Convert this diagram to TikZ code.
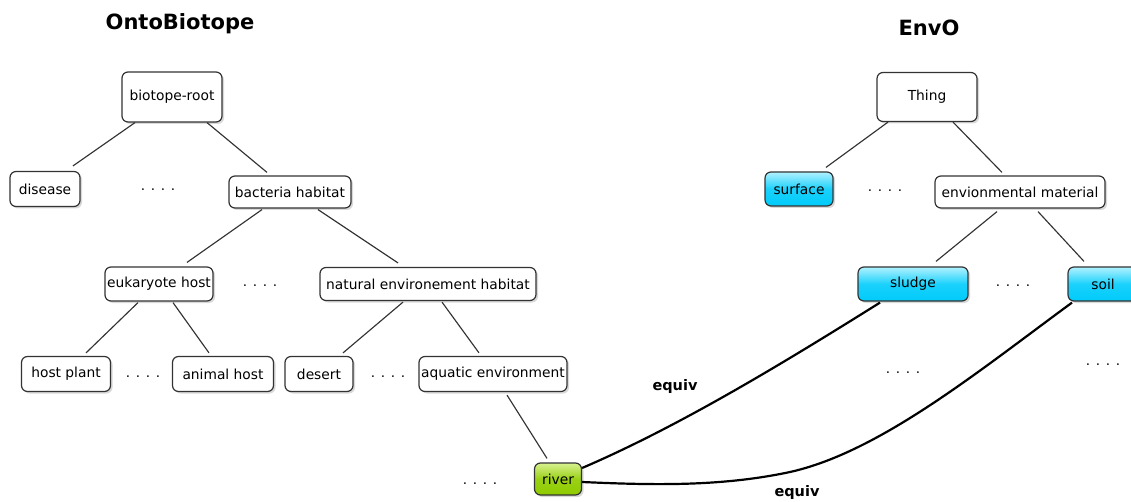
\documentclass[tikz,border=0pt]{standalone}
\usepackage{fontspec}
\setmainfont{DejaVu Sans}
\usetikzlibrary{shadows}

\definecolor{linegray}{HTML}{333333}
\definecolor{cyantop}{HTML}{B0F2FF}
\definecolor{cyanbot}{HTML}{00CBFB}
\definecolor{greentop}{HTML}{D8F290}
\definecolor{greenbot}{HTML}{8FCB00}

\tikzset{
  box/.style={draw=linegray, line width=1.2pt, rounded corners=6pt, fill=white,
    drop shadow={shadow xshift=2pt, shadow yshift=-2pt, opacity=0.3},
    inner sep=0pt, minimum height=33pt, font=\fontsize{13.8}{16}\selectfont},
  envbox/.style={box, top color=cyantop, bottom color=cyanbot, middle color=cyanbot!85!cyantop},
  hitbox/.style={box, top color=greentop, bottom color=greenbot, middle color=greenbot!85!greentop},
  link/.style={draw=linegray, line width=1.15pt},
  equivline/.style={draw=black, line width=2.2pt},
  dots/.style={anchor=base, inner sep=0pt, font=\fontsize{13.5}{16}\selectfont},
  title/.style={font=\bfseries\fontsize{21}{25}\selectfont},
  equivlbl/.style={font=\bfseries\fontsize{14.5}{17}\selectfont}
}

\begin{document}
\begin{tikzpicture}[x=1pt, y=-1pt]
\useasboundingbox (0,0) rectangle (1131,502);

% OntoBiotope side
\node[title] (onto) at (180,24) {OntoBiotope};
\node[box, minimum width=100pt, minimum height=50pt] (root) at (172,97) {biotope-root};
\node[box, minimum width=70pt, minimum height=35pt] (disease) at (45,189) {disease};
\node[dots] (dotsa) at (158,191) {. . . .};
\node[box, minimum width=122pt, minimum height=32pt] (bact) at (290,192) {bacteria habitat};
\node[box, minimum width=108pt, minimum height=34pt] (euk) at (159,284) {eukaryote host};
\node[dots] (dotsb) at (260,287) {. . . .};
\node[box, minimum width=216pt] (nat) at (428,284) {natural environement habitat};
\node[box, minimum width=89pt, minimum height=35pt] (plant) at (66,374) {host plant};
\node[dots] (dotsc) at (143,377) {. . . .};
\node[box, minimum width=101pt, minimum height=35pt] (animal) at (223,374) {animal host};
\node[box, minimum width=68pt, minimum height=35pt] (desert) at (319,374) {desert};
\node[dots] (dotsd) at (388,377) {. . . .};
\node[box, minimum width=148pt, minimum height=35pt] (aquatic) at (493,374) {aquatic environment};
\node[dots] (dotse) at (480,484) {. . . .};
\node[hitbox, minimum width=47pt, minimum height=32pt] (river) at (558,479) {river};

% EnvO side
\node[title] (envo) at (929,28) {EnvO};
\node[box, minimum width=100pt, minimum height=49pt] (thing) at (927,97) {Thing};
\node[envbox, minimum width=68pt, minimum height=34pt] (surface) at (799,189) {surface};
\node[dots] (dotsf) at (885,192) {. . . .};
\node[box, minimum width=170pt, minimum height=32pt] (envmat) at (1020,192) {envionmental material};
\node[envbox, minimum width=110pt, minimum height=34pt] (sludge) at (913,284) {sludge};
\node[dots] (dotsg) at (1013,287) {. . . .};
\node[envbox, minimum width=70pt, minimum height=34pt] (soil) at (1103,284) {soil};
\node[dots] (dotsh) at (903,373) {. . . .};
\node[dots] (dotsi) at (1103,365) {. . . .};

% tree links
\draw[link] ([xshift=-37pt]root.south) -- ([xshift=28pt,yshift=5pt]disease.north);
\draw[link] ([xshift=35pt]root.south) -- ([xshift=-23pt,yshift=3pt]bact.north);
\draw[link] ([xshift=-28pt,yshift=-1pt]bact.south) -- ([xshift=28pt,yshift=4pt]euk.north);
\draw[link] ([xshift=28pt,yshift=-1pt]bact.south) -- ([xshift=-30pt,yshift=4pt]nat.north);
\draw[link] ([xshift=-21pt,yshift=-1pt]euk.south) -- ([xshift=20pt,yshift=3pt]plant.north);
\draw[link] ([xshift=14pt,yshift=-1pt]euk.south) -- ([xshift=-14pt,yshift=3pt]animal.north);
\draw[link] ([xshift=-25pt,yshift=-1pt]nat.south) -- ([xshift=24pt,yshift=3pt]desert.north);
\draw[link] ([xshift=14pt,yshift=-1pt]nat.south) -- ([xshift=-14pt,yshift=3pt]aquatic.north);
\draw[link] ([xshift=14pt,yshift=-3pt]aquatic.south) -- ([xshift=-11pt,yshift=4pt]river.north);
\draw[link] ([xshift=-39pt]thing.south) -- ([xshift=27pt,yshift=4pt]surface.north);
\draw[link] ([xshift=26pt]thing.south) -- ([xshift=-18pt,yshift=3pt]envmat.north);
\draw[link] ([xshift=-23pt,yshift=-3pt]envmat.south) -- ([xshift=23pt,yshift=5pt]sludge.north);
\draw[link] ([xshift=18pt,yshift=-3pt]envmat.south) -- ([xshift=-19pt,yshift=5pt]soil.north);

% equivalences
\draw[equivline] ([yshift=11pt]river.east) .. controls (680,426) and (785,362) .. ([xshift=-33pt,yshift=-1pt]sludge.south);
\draw[equivline] ([yshift=-3pt]river.east) .. controls (650,485) and (720,487) .. (790,472)
  .. controls (880,452) and (980,370) .. ([xshift=-31pt,yshift=-1pt]soil.south);
\node[equivlbl] (eqa) at (675,386) {equiv};
\node[equivlbl] (eqb) at (797,492) {equiv};

\end{tikzpicture}
\end{document}
